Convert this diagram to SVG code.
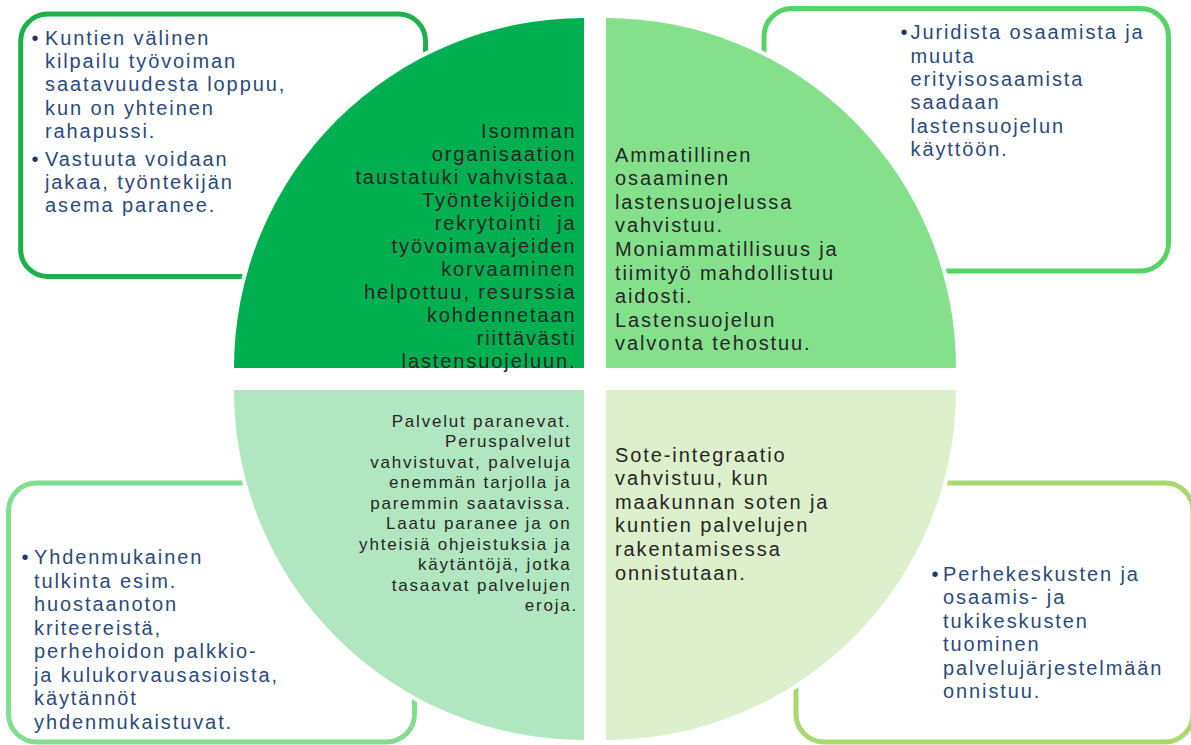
<svg xmlns="http://www.w3.org/2000/svg" width="1191" height="745" viewBox="0 0 1191 745">
<style>
.box{fill:#FFFFFF;stroke-width:5}
.quad{stroke:#FFFFFF;stroke-width:8;paint-order:stroke}
.t{font-family:"Liberation Sans",Arial,sans-serif;font-size:20px;letter-spacing:1.9px}
.qt{fill:#262626}
.qs{font-size:17px;letter-spacing:1.8px}
.bt{fill:#2B4A7B}
.dot{fill:#1F3864;letter-spacing:0}
</style>
<rect width="1191" height="745" fill="#FFFFFF"/>
<g id="box-top-left">
<rect class="box" x="20.7" y="14" width="404.8" height="262.5" rx="27" stroke="#1EB04B"/>
</g>
<g id="box-top-right">
<rect class="box" x="764" y="8.5" width="404.5" height="262.5" rx="28" stroke="#56D364"/>
</g>
<g id="box-bottom-left">
<rect class="box" x="8.5" y="483" width="406" height="259" rx="28" stroke="#82DD8F"/>
</g>
<g id="box-bottom-right">
<rect class="box" x="796" y="483" width="397" height="259" rx="28" stroke="#A9DA6F"/>
</g>
<g id="quarter-top-left">
<path class="quad" d="M584,368 L234,368 A350,350 0 0 1 584,18 Z" fill="#00B050"/>
<text class="t qt" text-anchor="end" style="white-space:pre">
<tspan x="584" y="138">Isomman</tspan>
<tspan x="584" y="161">organisaation</tspan>
<tspan x="584" y="184">taustatuki vahvistaa.</tspan>
<tspan x="584" y="207">Työntekijöiden</tspan>
<tspan x="584" y="230">rekrytointi  ja</tspan>
<tspan x="584" y="253">työvoimavajeiden</tspan>
<tspan x="584" y="276">korvaaminen</tspan>
<tspan x="584" y="299">helpottuu, resurssia</tspan>
<tspan x="584" y="322">kohdennetaan</tspan>
<tspan x="584" y="345">riittävästi</tspan>
<tspan x="584" y="368">lastensuojeluun.</tspan>
</text>
</g>
<g id="quarter-top-right">
<path class="quad" d="M606,368 L606,18 A350,350 0 0 1 956,368 Z" fill="#85E08C"/>
<text class="t qt">
<tspan x="615" y="161.5">Ammatillinen</tspan>
<tspan x="615" y="185.1">osaaminen</tspan>
<tspan x="615" y="208.7">lastensuojelussa</tspan>
<tspan x="615" y="232.3">vahvistuu.</tspan>
<tspan x="615" y="255.9">Moniammatillisuus ja</tspan>
<tspan x="615" y="279.5">tiimityö mahdollistuu</tspan>
<tspan x="615" y="303.1">aidosti.</tspan>
<tspan x="615" y="326.7">Lastensuojelun</tspan>
<tspan x="615" y="350.3">valvonta tehostuu.</tspan>
</text>
</g>
<g id="quarter-bottom-left">
<path class="quad" d="M584,390 L584,740 A350,350 0 0 1 234,390 Z" fill="#B0E6C0"/>
<text class="t qs qt" text-anchor="end">
<tspan x="578" y="426.7">Palvelut paranevat.</tspan>
<tspan x="578" y="447.1">Peruspalvelut</tspan>
<tspan x="578" y="467.6">vahvistuvat, palveluja</tspan>
<tspan x="578" y="488.1">enemmän tarjolla ja</tspan>
<tspan x="578" y="508.6">paremmin saatavissa.</tspan>
<tspan x="578" y="529.1">Laatu paranee ja on</tspan>
<tspan x="578" y="549.6">yhteisiä ohjeistuksia ja</tspan>
<tspan x="578" y="570.1">käytäntöjä, jotka</tspan>
<tspan x="578" y="590.5">tasaavat palvelujen</tspan>
<tspan x="578" y="611">eroja.</tspan>
</text>
</g>
<g id="quarter-bottom-right">
<path class="quad" d="M606,390 L956,390 A350,350 0 0 1 606,740 Z" fill="#DDEFCB"/>
<text class="t qt">
<tspan x="615" y="461.5">Sote-integraatio</tspan>
<tspan x="615" y="485.1">vahvistuu, kun</tspan>
<tspan x="615" y="508.7">maakunnan soten ja</tspan>
<tspan x="615" y="532.3">kuntien palvelujen</tspan>
<tspan x="615" y="555.9">rakentamisessa</tspan>
<tspan x="615" y="579.5">onnistutaan.</tspan>
</text>
</g>
<g id="text-top-left-box">
<text class="t dot" x="31.5" y="45">•</text>
<text class="t bt">
<tspan x="45" y="45">Kuntien välinen</tspan>
<tspan x="45" y="68.2">kilpailu työvoiman</tspan>
<tspan x="45" y="91.4">saatavuudesta loppuu,</tspan>
<tspan x="45" y="114.6">kun on yhteinen</tspan>
<tspan x="45" y="137.8">rahapussi.</tspan>
</text>
<text class="t dot" x="31.5" y="165.7">•</text>
<text class="t bt">
<tspan x="45" y="165.7">Vastuuta voidaan</tspan>
<tspan x="45" y="188.9">jakaa, työntekijän</tspan>
<tspan x="45" y="212.1">asema paranee.</tspan>
</text>
</g>
<g id="text-top-right-box">
<text class="t dot" x="900.5" y="39.3">•</text>
<text class="t bt">
<tspan x="910.5" y="39.3">Juridista osaamista ja</tspan>
<tspan x="910.5" y="62.6">muuta</tspan>
<tspan x="910.5" y="85.9">erityisosaamista</tspan>
<tspan x="910.5" y="109.2">saadaan</tspan>
<tspan x="910.5" y="132.5">lastensuojelun</tspan>
<tspan x="910.5" y="155.8">käyttöön.</tspan>
</text>
</g>
<g id="text-bottom-left-box">
<text class="t dot" x="21.5" y="564">•</text>
<text class="t bt">
<tspan x="34" y="564">Yhdenmukainen</tspan>
<tspan x="34" y="587.5">tulkinta esim.</tspan>
<tspan x="34" y="611">huostaanoton</tspan>
<tspan x="34" y="634.5">kriteereistä,</tspan>
<tspan x="34" y="658">perhehoidon palkkio-</tspan>
<tspan x="34" y="681.5">ja kulukorvausasioista,</tspan>
<tspan x="34" y="705">käytännöt</tspan>
<tspan x="34" y="728.5">yhdenmukaistuvat.</tspan>
</text>
</g>
<g id="text-bottom-right-box">
<text class="t dot" x="931.5" y="580.7">•</text>
<text class="t bt">
<tspan x="943" y="580.7">Perhekeskusten ja</tspan>
<tspan x="943" y="604.2">osaamis- ja</tspan>
<tspan x="943" y="627.7">tukikeskusten</tspan>
<tspan x="943" y="651.2">tuominen</tspan>
<tspan x="943" y="674.7">palvelujärjestelmään</tspan>
<tspan x="943" y="698.2">onnistuu.</tspan>
</text>
</g>
</svg>
